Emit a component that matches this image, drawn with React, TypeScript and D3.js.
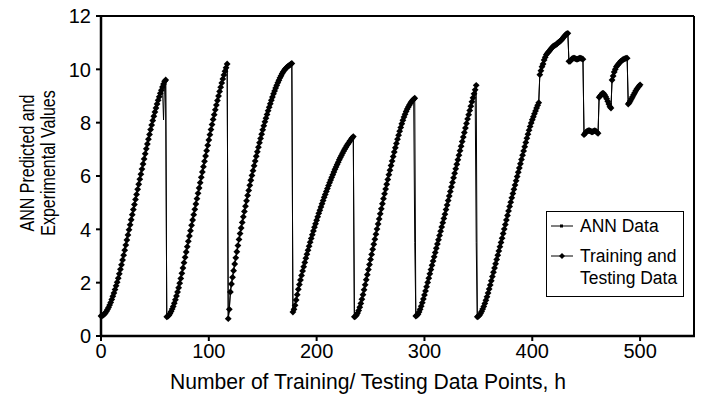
import React from 'react';
import * as d3 from 'd3';

// values, one array per cycle (h = running index)
const cycle1 = [
  0.75, 0.76, 0.78, 0.82, 0.86, 0.92, 0.99, 1.07, 1.16, 1.26,
  1.37, 1.49, 1.61, 1.74, 1.88, 2.02, 2.17, 2.33, 2.5, 2.67,
  2.85, 3.03, 3.22, 3.41, 3.6, 3.79, 3.98, 4.17, 4.36, 4.55,
  4.74, 4.93, 5.12, 5.31, 5.5, 5.69, 5.88, 6.07, 6.26, 6.45,
  6.64, 6.83, 7.02, 7.2, 7.38, 7.56, 7.74, 7.91, 8.08, 8.24,
  8.4, 8.55, 8.7, 8.84, 8.97, 9.1, 9.22, 9.34, 9.45, 9.55,
  9.6,
];
const cycle2 = [
  0.72, 0.74, 0.78, 0.84, 0.92, 1.01, 1.11, 1.23, 1.36, 1.5,
  1.65, 1.81, 1.98, 2.16, 2.35, 2.55, 2.75, 2.95, 3.15, 3.35,
  3.55, 3.75, 3.95, 4.15, 4.35, 4.55, 4.75, 4.95, 5.15, 5.35,
  5.55, 5.75, 5.95, 6.15, 6.35, 6.55, 6.75, 6.95, 7.15, 7.35,
  7.55, 7.74, 7.93, 8.12, 8.3, 8.48, 8.66, 8.83, 9.0, 9.17,
  9.33, 9.49, 9.64, 9.79, 9.93, 10.06, 10.2,
];
const cycle3 = [
  0.65, 1.0, 1.65, 1.95, 2.2, 2.45, 2.7, 2.93, 3.16, 3.39,
  3.62, 3.84, 4.05, 4.26, 4.47, 4.67, 4.87, 5.07, 5.27, 5.46,
  5.65, 5.84, 6.02, 6.2, 6.38, 6.56, 6.74, 6.91, 7.08, 7.25,
  7.41, 7.57, 7.73, 7.88, 8.03, 8.17, 8.31, 8.45, 8.58, 8.71,
  8.84, 8.96, 9.08, 9.19, 9.3, 9.4, 9.5, 9.59, 9.68, 9.76,
  9.84, 9.91, 9.97, 10.02, 10.06, 10.1, 10.13, 10.16, 10.19, 10.22,
];
const cycle4 = [
  0.9, 1.0, 1.15, 1.35, 1.55, 1.75, 1.93, 2.1, 2.27, 2.44,
  2.6, 2.76, 2.92, 3.07, 3.22, 3.37, 3.52, 3.66, 3.8, 3.94,
  4.08, 4.21, 4.34, 4.47, 4.6, 4.72, 4.84, 4.96, 5.08, 5.2,
  5.31, 5.42, 5.53, 5.64, 5.75, 5.85, 5.95, 6.05, 6.15, 6.25,
  6.34, 6.43, 6.52, 6.61, 6.69, 6.77, 6.85, 6.93, 7.0, 7.07,
  7.14, 7.2, 7.26, 7.32, 7.38, 7.43, 7.48,
];
const cycle5 = [
  0.72, 0.74, 0.79, 0.86, 0.96, 1.08, 1.22, 1.38, 1.55, 1.73,
  1.92, 2.11, 2.3, 2.49, 2.68, 2.87, 3.06, 3.25, 3.44, 3.63,
  3.82, 4.01, 4.2, 4.39, 4.58, 4.77, 4.96, 5.15, 5.33, 5.51,
  5.69, 5.87, 6.05, 6.22, 6.39, 6.56, 6.73, 6.9, 7.06, 7.22,
  7.38, 7.53, 7.68, 7.82, 7.96, 8.09, 8.21, 8.32, 8.42, 8.51,
  8.59, 8.66, 8.73, 8.79, 8.84, 8.88, 8.92,
];
const cycle6 = [
  0.75, 0.77, 0.82, 0.9, 1.0, 1.12, 1.25, 1.39, 1.54, 1.69,
  1.85, 2.01, 2.17, 2.33, 2.49, 2.65, 2.81, 2.97, 3.13, 3.29,
  3.45, 3.61, 3.77, 3.93, 4.09, 4.25, 4.41, 4.57, 4.74, 4.91,
  5.08, 5.25, 5.42, 5.59, 5.76, 5.93, 6.1, 6.27, 6.44, 6.61,
  6.78, 6.95, 7.12, 7.29, 7.46, 7.63, 7.8, 7.97, 8.14, 8.3,
  8.46, 8.62, 8.78, 8.93, 9.08, 9.23, 9.4,
];
const cycle7 = [
  0.72, 0.74, 0.78, 0.84, 0.92, 1.01, 1.11, 1.22, 1.34, 1.47,
  1.61, 1.76, 1.91, 2.07, 2.23, 2.39, 2.55, 2.71, 2.87, 3.03,
  3.19, 3.35, 3.51, 3.67, 3.84, 4.01, 4.18, 4.35, 4.52, 4.69,
  4.86, 5.02, 5.18, 5.34, 5.5, 5.66, 5.82, 5.98, 6.14, 6.3,
  6.46, 6.62, 6.78, 6.94, 7.1, 7.26, 7.42, 7.57, 7.72, 7.86,
  7.99, 8.11, 8.22, 8.33, 8.44, 8.55, 8.65, 8.75,
];
const testingTail = [
  9.8, 9.95, 10.1, 10.2, 10.35, 10.45, 10.55, 10.6, 10.65, 10.7,
  10.75, 10.8, 10.85, 10.88, 10.9, 10.93, 10.96, 11.0, 11.03, 11.06,
  11.1, 11.15, 11.2, 11.25, 11.3, 11.33, 11.35,
  10.3, 10.3, 10.35, 10.4, 10.42, 10.42, 10.4, 10.38, 10.38, 10.4, 10.42, 10.42, 10.4, 10.38,
  7.55, 7.6, 7.65, 7.68, 7.7, 7.7, 7.68, 7.66, 7.66, 7.68, 7.7, 7.68, 7.64, 7.6,
  8.95, 9.0, 9.05, 9.1, 9.1, 9.05, 8.98, 8.9, 8.8, 8.7, 8.6, 8.55,
  9.6, 9.75, 9.9, 10.0, 10.1, 10.15, 10.2, 10.25, 10.3, 10.33, 10.36, 10.38, 10.4, 10.42, 10.42,
  8.7, 8.75, 8.82, 8.9, 8.97, 9.05, 9.12, 9.2, 9.26, 9.32, 9.37, 9.42,
];

// where the ANN line departs from the measured points
const annIdx = [58, 291, 348];
const annVal = [8.1, 3.5, 3.5];

const xTicks = [0, 100, 200, 300, 400, 500];
const yTicks = [0, 2, 4, 6, 8, 10, 12];

const font = '"Liberation Sans", Arial, sans-serif';

type Pt = { h: number; v: number };

const diamond = (r: number) => `M0,${-r}L${r},0L0,${r}L${-r},0Z`;

export default function App() {
  const width = 702;
  const height = 409;

  const x = d3.scaleLinear().domain([0, 550]).range([101, 694]);
  const y = d3.scaleLinear().domain([0, 12]).range([336, 16]);

  const all = [...cycle1, ...cycle2, ...cycle3, ...cycle4, ...cycle5, ...cycle6, ...cycle7, ...testingTail];
  const training: Pt[] = all.map((v, i) => ({ h: i, v }));
  const ann: Pt[] = training.map(d => {
    const k = annIdx.indexOf(d.h);
    return k >= 0 ? { h: d.h, v: annVal[k] } : d;
  });

  const line = d3.line<Pt>().x(d => x(d.h)).y(d => y(d.v));

  const [x0, x1] = x.range();
  const [yb, yt] = y.range();

  return (
    <svg width={width} height={height} style={{ position: 'absolute', left: 0, top: 0, background: '#fff' }}>
      <rect width={width} height={height} fill="#fff" />

      {/* series */}
      <path d={line(ann) || ''} fill="none" stroke="#000" strokeWidth={1} />
      <path d={line(training) || ''} fill="none" stroke="#000" strokeWidth={1} />
      {training.map(d => (
        <path key={'t' + d.h} d={diamond(3.4)} transform={`translate(${x(d.h)},${y(d.v)})`} fill="#000" />
      ))}

      {/* frame */}
      <line x1={x0} x2={x1} y1={yt} y2={yt} stroke="#000" strokeWidth={2} />
      <line x1={x1} x2={x1} y1={yt} y2={yb} stroke="#000" strokeWidth={2} />
      <line x1={x0} x2={x1 + 1} y1={yb} y2={yb} stroke="#000" strokeWidth={2.5} />
      <line x1={x0} x2={x0} y1={yt - 1} y2={yb + 1} stroke="#000" strokeWidth={2.5} />

      {/* y axis */}
      {yTicks.map(t => (
        <g key={'y' + t}>
          <line x1={x0 - 5} x2={x0} y1={y(t)} y2={y(t)} stroke="#000" strokeWidth={2} />
          <text x={91} y={y(t)} dy="0.36em" textAnchor="end" fontFamily={font} fontSize={20}>{t}</text>
        </g>
      ))}

      {/* x axis */}
      {xTicks.map(t => (
        <g key={'x' + t}>
          <line x1={x(t)} x2={x(t)} y1={yb} y2={yb + 5} stroke="#000" strokeWidth={2} />
          <text x={x(t)} y={358} textAnchor="middle" fontFamily={font} fontSize={20}>{t}</text>
        </g>
      ))}

      {/* axis titles */}
      <text transform="translate(368,389) scale(0.96,1)" textAnchor="middle" fontFamily={font} fontSize={22}>
        Number of Training/ Testing Data Points, h
      </text>
      <text transform="translate(34,163) rotate(-90) scale(0.8,1)" textAnchor="middle" fontFamily={font} fontSize={20}>
        ANN Predicted and
      </text>
      <text transform="translate(55,163) rotate(-90) scale(0.8,1)" textAnchor="middle" fontFamily={font} fontSize={20}>
        Experimental Values
      </text>

      {/* legend */}
      <g>
        <rect x={546.5} y={211.5} width={137} height={85} fill="#fff" stroke="#000" strokeWidth={1} />
        <line x1={551} x2={573} y1={226} y2={226} stroke="#000" strokeWidth={1} />
        <rect x={560} y={224.5} width={3} height={3} fill="#000" />
        <text transform="translate(580,232) scale(0.92,1)" fontFamily={font} fontSize={19}>ANN Data</text>
        <line x1={551} x2={573} y1={256} y2={256} stroke="#000" strokeWidth={1} />
        <path d={diamond(3)} transform="translate(562,256)" fill="#000" />
        <text transform="translate(580,262) scale(0.92,1)" fontFamily={font} fontSize={19}>Training and</text>
        <text transform="translate(580,284) scale(0.92,1)" fontFamily={font} fontSize={19}>Testing Data</text>
      </g>
    </svg>
  );
}
